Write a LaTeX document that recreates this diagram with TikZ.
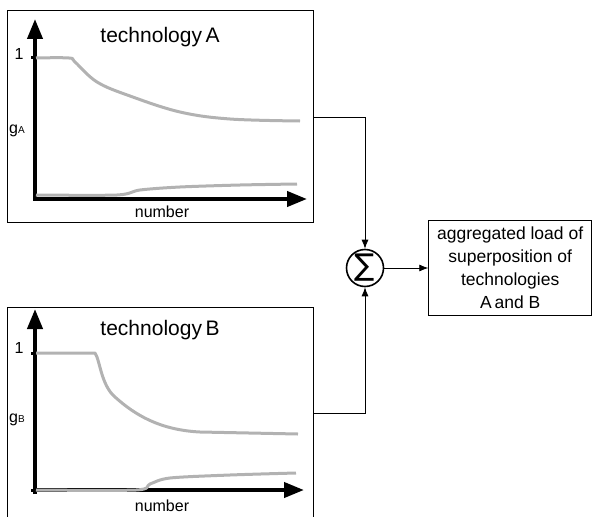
\documentclass[tikz,border=0pt]{standalone}
\usepackage{fontspec}
\setmainfont{Liberation Sans}
\newfontfamily\symfont{DejaVu Sans}
\usetikzlibrary{arrows.meta, positioning}

\begin{document}
\begin{tikzpicture}[
  x=1pt, y=-1pt, % pixel grid of the original figure
  panel/.style={draw, line width=0.8pt, minimum width=306pt, anchor=north west},
  axis/.style={line width=4pt, -{Triangle[length=20pt,width=15pt]}},
  curve/.style={draw=black!30, line width=3pt, line join=round},
  link/.style={line width=0.8pt, -{Latex[length=9pt,width=7pt]}},
  title/.style={font=\fontsize{21}{24}\selectfont},
  lbl/.style={font=\fontsize{16}{18}\selectfont, inner sep=1pt}]

  \useasboundingbox (0,0) rectangle (596,516);

  % the two panels
  \node[panel, minimum height=212pt] (boxA) at (7,10) {};
  \node[panel, minimum height=212pt] (boxB) at (7,307) {};

  % technology A
  \node[title] (titleA) at (160,37) {technology\,A};
  \draw[axis] (35,199) -- (35,19);
  \draw[axis] (33,199) -- (307,199);
  \draw[line width=3pt] (31,58) -- (35,58);
  \node[lbl] (oneA) at (19,54) {1};
  \node[lbl] (gA) at (17,131) {g{\fontsize{10}{10}\selectfont A}};
  \node[lbl] (numA) at (162,212) {number};
  \draw[curve] plot[smooth, tension=0.6] coordinates
    {(36,58) (69,58) (75,62) (97,82) (130,96) (180,112) (230,119) (300,121)};
  \draw[curve] plot[smooth, tension=0.5] coordinates
    {(36,195) (117,195) (140,190) (180,187) (240,185) (297,184)};

  % technology B
  \node[title] (titleB) at (160,330) {technology\,B};
  \draw[axis] (35,494) -- (35,309);
  \draw[axis] (33,490) -- (304,490);
  \draw[line width=3pt] (31,353) -- (35,353);
  \draw[line width=3pt] (31,490) -- (35,490);
  \node[lbl] (oneB) at (19,348) {1};
  \node[lbl] (gB) at (17,420) {g{\fontsize{10}{10}\selectfont B}};
  \node[lbl] (numB) at (162,506) {number};
  \draw[curve] (36,353) -- (95,353)
    .. controls (100,360) and (101,385) .. (115,397)
    .. controls (135,415) and (160,430) .. (200,432)
    -- (298,434);
  \draw[curve] plot[smooth, tension=0.5] coordinates
    {(36,490) (136,490) (150,484) (170,478) (230,475) (296,473)};

  % summation and result
  \node[circle, draw, line width=1.6pt, minimum size=37pt, inner sep=0pt] (sum) at (365,268)
    {\symfont\fontsize{30}{30}\selectfont ∑};
  \node[draw, line width=0.8pt, minimum width=163pt, minimum height=95pt, align=center,
        font=\fontsize{17.5}{23}\selectfont, inner sep=1pt, right=44pt of sum] (result)
    {aggregated load of\\superposition of\\technologies\\A\,and B};

  \draw[link] (boxA.east |- 0,117) -| (sum.north);
  \draw[link] (boxB.east |- 0,413) -| (sum.south);
  \draw[link] (sum) -- (result);
\end{tikzpicture}
\end{document}
